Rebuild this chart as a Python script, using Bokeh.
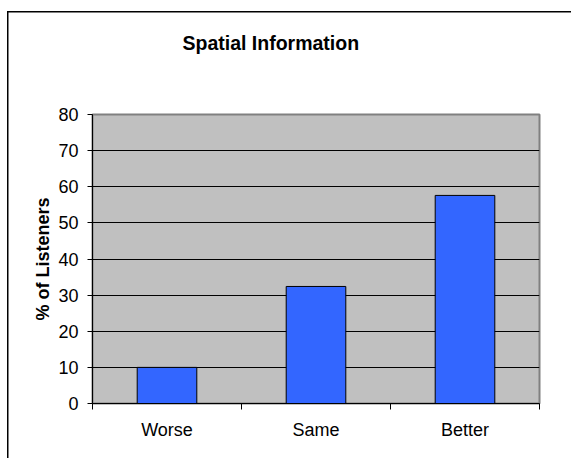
from bokeh.plotting import figure
from bokeh.models import Range1d, FixedTicker, Title
from bokeh.embed import file_html
from bokeh.resources import INLINE
import numpy as np

categories = ["Worse", "Same", "Better"]
listeners_pct = [10.0, 32.4, 57.6]
y_ticks = [0, 10, 20, 30, 40, 50, 60, 70, 80]

FONT = "Liberation Sans"

x_pos = list(np.arange(len(categories)) + 0.5)

p = figure(width=571, height=458, output_backend="svg", toolbar_location=None,
           x_range=Range1d(0, len(categories)), y_range=Range1d(0, 80),
           min_border_left=92, min_border_right=32, min_border_top=114, min_border_bottom=55,
           title=None)

p.background_fill_color = "#C0C0C0"
p.border_fill_color = None
p.outline_line_color = "#808080"
p.outline_line_width = 2

# outer chart border (left and top edges visible, like the reference)
p.styles = {
    "background-color": "white",
    "background-image": "linear-gradient(black, black), linear-gradient(black, black)",
    "background-position": "7px 11px, 7px 11px",
    "background-size": "1.5px 100%, 100% 1.5px",
    "background-repeat": "no-repeat, no-repeat",
}

p.vbar(x=x_pos, top=listeners_pct, width=0.4, bottom=0,
       fill_color="#3366FF", line_color="black", line_width=1)

# y axis
p.yaxis.ticker = FixedTicker(ticks=y_ticks)
p.yaxis.axis_line_color = "black"
p.yaxis.major_tick_out = 5
p.yaxis.major_tick_in = 0
p.yaxis.minor_tick_line_color = None
p.yaxis.major_label_text_font = FONT
p.yaxis.major_label_text_font_size = "18px"
p.yaxis.major_label_text_color = "black"
p.yaxis.major_label_standoff = 9
p.yaxis.axis_label = "% of Listeners"
p.yaxis.axis_label_text_font = FONT
p.yaxis.axis_label_text_font_size = "18px"
p.yaxis.axis_label_text_font_style = "bold"
p.yaxis.axis_label_text_color = "black"
p.yaxis.axis_label_standoff = 2

# x axis: labels at category centres, ticks at boundaries
p.xaxis.ticker = FixedTicker(ticks=x_pos, minor_ticks=list(range(len(categories) + 1)))
p.xaxis.major_label_overrides = {float(x): c for x, c in zip(x_pos, categories)}
p.xaxis.axis_line_color = "black"
p.xaxis.major_tick_out = 0
p.xaxis.major_tick_in = 0
p.xaxis.minor_tick_out = 6
p.xaxis.minor_tick_in = 0
p.xaxis.minor_tick_line_color = "black"
p.xaxis.major_label_text_font = FONT
p.xaxis.major_label_text_font_size = "18px"
p.xaxis.major_label_text_color = "black"
p.xaxis.major_label_standoff = 10

# grid
p.xgrid.grid_line_color = None
p.ygrid.ticker = FixedTicker(ticks=y_ticks[1:-1])
p.ygrid.grid_line_color = "black"
p.ygrid.grid_line_width = 1

# spacer between the frame and the title
spacer = Title(text=" ", text_font_size="1px", standoff=53)
p.add_layout(spacer, "above")

# title
title = Title(text="Spatial Information", align="left", offset=90, standoff=10,
              text_font=FONT, text_font_size="19.5px", text_font_style="bold",
              text_color="black")
p.add_layout(title, "above")

open("out.html", "w").write(file_html(p, INLINE))
